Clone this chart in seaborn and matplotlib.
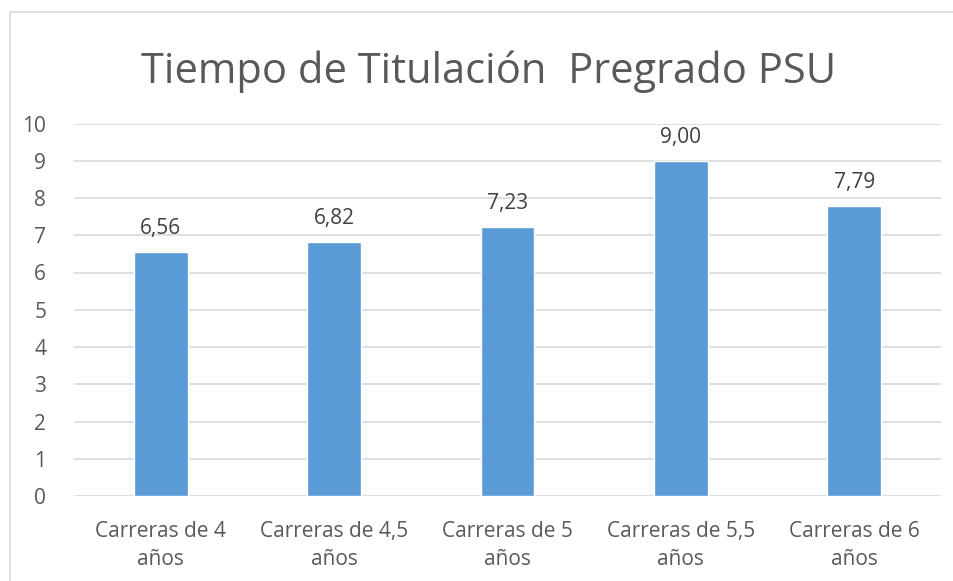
import matplotlib
matplotlib.use("Agg")
import matplotlib.pyplot as plt
import seaborn as sns
import pandas as pd
from matplotlib.patches import Rectangle

categorias = ["Carreras de 4\naños", "Carreras de 4,5\naños", "Carreras de 5\naños",
              "Carreras de 5,5\naños", "Carreras de 6\naños"]
valores = [6.56, 6.82, 7.23, 9.00, 7.79]
yticks = [0, 1, 2, 3, 4, 5, 6, 7, 8, 9, 10]

df = pd.DataFrame({"categoria": categorias, "valor": valores})

sns.set_theme(style="white")
plt.rcParams['font.family'] = ['Open Sans', 'DejaVu Sans']

gris = "#595959"
azul = "#5b9bd5"

fig = plt.figure(figsize=(9.54, 5.81), dpi=100)
ax = fig.add_axes([74 / 954, 85 / 581, 867 / 954, 372.5 / 581])

sns.barplot(data=df, x="categoria", y="valor", color=azul, width=0.31,
            saturation=1, ax=ax)

ax.set_ylim(0, 10)
ax.set_yticks(yticks)
ax.yaxis.grid(True, color="#d9d9d9", linewidth=1.2)
ax.set_axisbelow(True)
for s in ax.spines.values():
    s.set_visible(False)
ax.tick_params(axis="both", length=0, colors=gris, labelsize=15)
ax.tick_params(axis="y", pad=20)
ax.tick_params(axis="x", pad=18)
for lbl in ax.get_xticklabels():
    lbl.set_linespacing(1.45)
ax.set_xlabel("")
ax.set_ylabel("")

for p, v in zip(ax.patches, valores):
    ax.annotate(f"{v:.2f}".replace(".", ","),
                (p.get_x() + p.get_width() / 2, p.get_height()),
                xytext=(0, 9), textcoords="offset points",
                ha="center", va="bottom", fontsize=15, color="#404040")

fig.text(489 / 954, 1 - 72 / 581, "Tiempo de Titulación  Pregrado PSU",
         ha="center", va="center", fontsize=30, color=gris)

fig.patches.append(Rectangle((10 / 954, -0.05), 1.0, 1 - 12 / 581 + 0.05,
                             transform=fig.transFigure, fill=False,
                             edgecolor="#d9d9d9", linewidth=1.2))

fig.savefig("out.png", dpi=100)
